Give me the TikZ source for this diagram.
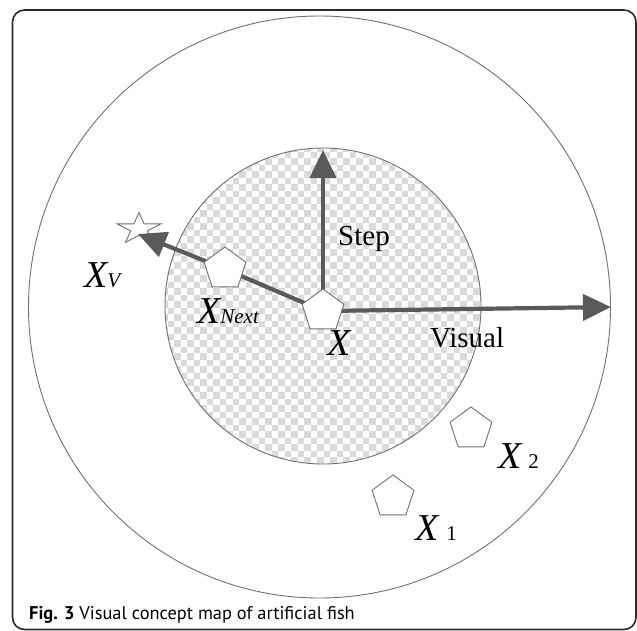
\documentclass[tikz,border=0pt]{standalone}
\usepackage{fontspec}
\setmainfont{Liberation Serif}
\newfontfamily\capfont{PT Sans}
\usetikzlibrary{arrows.meta,shapes.geometric}
\definecolor{arrowgray}{HTML}{5A5A5A}
\definecolor{linegray}{HTML}{707070}
\definecolor{checkgray}{HTML}{DADADA}
\definecolor{framecol}{HTML}{2A2A2A}
\pgfdeclarelayer{bg}
\pgfdeclarelayer{mid}
\pgfsetlayers{bg,mid,main}
\tikzset{
  fish/.style={regular polygon, regular polygon sides=5, minimum size=44pt,
    inner sep=0pt, draw=linegray, line width=0.9pt, fill=white},
  ring/.style={draw=linegray, line width=0.9pt},
  movearrow/.style={draw=arrowgray, line width=4.2pt, line join=round,
    -{Triangle[length=28pt,width=26pt]}},
  lab/.style={inner sep=0pt, anchor=base west, font=\fontsize{38}{38}\selectfont\itshape},
  plainlab/.style={inner sep=0pt, anchor=base west, font=\fontsize{29}{29}\selectfont},
  starstyle/.style={draw=linegray, line width=0.9pt, fill=white, line join=miter},
  framestyle/.style={draw=framecol, line width=1.6pt, rounded corners=12pt}
}
\newcommand{\subtxt}[1]{{\fontsize{21}{21}\selectfont #1}}
\begin{document}
\begin{tikzpicture}[x=1pt,y=-1pt]
\useasboundingbox (0,0) rectangle (637,630);
% frame
\draw[framestyle] (12.5,10) rectangle (636,629.5);
% nodes
\node[fish] (X) at (323,311) {};
\node[fish] (Xn) at (225,269) {};
\node[fish] (X2) at (471,429) {};
\node[fish] (X1) at (393,497) {};
\coordinate (S) at (139,229);
\coordinate (steptip) at (323,150);
\coordinate (vistip) at (611,307);
\coordinate (vtip) at (138,234);
\begin{pgfonlayer}{bg}
  % outer circle
  \draw[ring] (319.5,307) circle[radius=291];
  % checkered inner circle
  \begin{scope}
    \clip (323,306) circle[radius=158];
    \fill[white] (160,140) rectangle (490,470);
    \foreach \k in {0,...,50}{
      \pgfmathsetmacro{\yy}{145+\k*6.5+3.25}
      \pgfmathsetmacro{\ph}{mod(\k,2)*6.5}
      \draw[checkgray, line width=6.5pt, dash pattern=on 6.5pt off 6.5pt, dash phase=\ph pt]
        (161,\yy) -- (490,\yy);
    }
  \end{scope}
  \draw[ring] (323,306) circle[radius=158];
  % star
  \begin{scope}[shift={(S)}, x=23pt, y=16.5pt]
    \draw[starstyle] (0,1) -- (0.2245,0.309) -- (0.951,0.309) -- (0.363,-0.118)
      -- (0.588,-0.809) -- (0,-0.382) -- (-0.588,-0.809) -- (-0.363,-0.118)
      -- (-0.951,0.309) -- (-0.2245,0.309) -- cycle;
  \end{scope}
\end{pgfonlayer}
\begin{pgfonlayer}{mid}
  \draw[movearrow] (X.center) -- (steptip);
  \draw[movearrow] (X.center) -- (vistip);
  \draw[movearrow] (X.center) -- (Xn.center) -- (vtip);
\end{pgfonlayer}
% labels
\node[plainlab] (lstep) at (338,245) {Step};
\node[plainlab] (lvis) at (430,347) {Visual};
\node[lab] (lx) at (327,355) {X};
\node[lab] (lxn) at (197,323) {X\subtxt{Next}};
\node[lab] (lxv) at (84,287) {X\subtxt{V}};
\node[lab] (lx2) at (498,468) {X\hspace{7pt}\subtxt{\upshape 2}};
\node[lab] (lx1) at (415,540) {X\hspace{8pt}\subtxt{\upshape 1}};
% caption
\node[inner sep=0pt, anchor=base west, font=\capfont\fontsize{18.4}{21}\selectfont] (cap) at (29,619)
  {\textbf{Fig. 3} Visual concept map of artificial fish};
\end{tikzpicture}
\end{document}
